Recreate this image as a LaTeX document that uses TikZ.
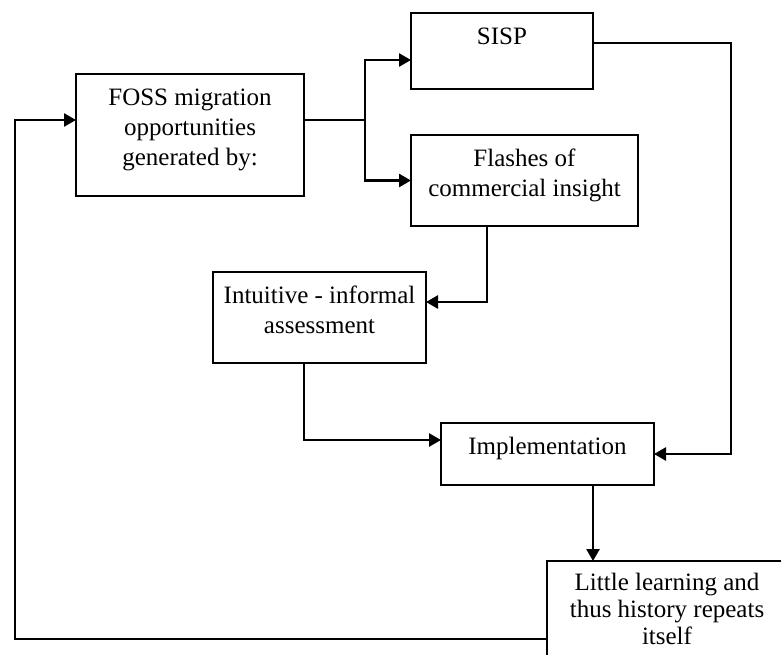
\documentclass[tikz,border=0pt]{standalone}
\usepackage{fontspec}
\setmainfont{Liberation Serif}
\usetikzlibrary{arrows.meta}

% Text block of a box: fixed width and height, lines centred, set from the top.
% #1 width, #2 height, #3 baseline skip, #4 text
\newcommand{\flowtext}[4]{%
  \parbox[c][#2][t]{#1}{\centering\fontsize{25pt}{#3}\selectfont
    \vspace*{10.5pt}\strut #4}}

\tikzset{
  flowbox/.style={draw=black, line width=1.3pt, fill=white, inner sep=0pt,
                  outer sep=0pt, anchor=north west},
  link/.style={draw=black, line width=2.6pt},
  linkarrow/.style={link, -{Triangle[length=12pt, width=13pt]}},
}

\begin{document}
\begin{tikzpicture}[x=1pt, y=-1pt]
  \useasboundingbox (0,0) rectangle (781,662);

  % boxes
  \node[flowbox] (foss) at (76,74)
    {\flowtext{228pt}{122pt}{30pt}{FOSS migration\\ opportunities\\ generated by:}};
  \node[flowbox] (sisp) at (411,13)
    {\flowtext{182pt}{76pt}{30pt}{SISP}};
  \node[flowbox] (flashes) at (411,135)
    {\flowtext{227pt}{91pt}{30pt}{Flashes of\\ commercial insight}};
  \node[flowbox] (intuitive) at (213,272)
    {\flowtext{213pt}{91pt}{30pt}{Intuitive - informal\\ assessment}};
  \node[flowbox] (impl) at (441,423)
    {\flowtext{213pt}{62pt}{30pt}{Implementation}};
  \begin{scope}
    \clip (0,0) rectangle (781,654);
    \node[flowbox] (little) at (547,561)
      {\flowtext{240pt}{110pt}{27pt}{Little learning and\\ thus history repeats\\ itself}};
  \end{scope}

  % connectors
  \draw[link] ([yshift=15pt]foss.east) -- ++(61,0) coordinate (split);
  \draw[linkarrow] (split) |- ([yshift=-9pt]sisp.west);
  \draw[linkarrow] (split) |- (flashes.west);
  \draw[linkarrow] ([yshift=8pt]sisp.east) -- ++(138,0) |- (impl.east);
  \draw[linkarrow] ([xshift=-37.5pt]flashes.south) |- ([yshift=15.5pt]intuitive.east);
  \draw[linkarrow] ([xshift=-15.5pt]intuitive.south) |- ([yshift=14pt]impl.west);
  \draw[linkarrow] ([xshift=45.5pt]impl.south) -- ([xshift=45.5pt]impl.south |- little.north);
  \draw[linkarrow] ([yshift=-23pt]little.west) -- ++(-532,0) |- ([yshift=15pt]foss.west);
\end{tikzpicture}
\end{document}
